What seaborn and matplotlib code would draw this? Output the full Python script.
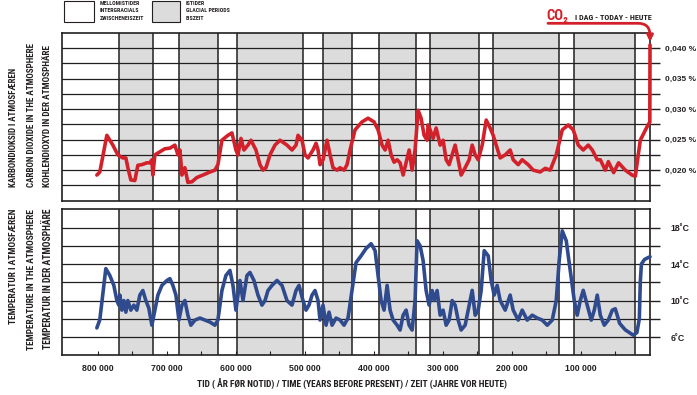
import matplotlib
matplotlib.use("Agg")
import matplotlib.pyplot as plt
import seaborn as sns
import pandas as pd
from matplotlib.patches import Rectangle
from matplotlib import font_manager

# CO2 (ppm) - years before present in thousands
co2_ka = [801, 796.7, 786.5, 777.8, 770.6, 763.4, 759, 756.1, 751.8, 746, 741.6, 735.8, 728.6, 724.2,
          721.3, 719.9, 717, 709.7, 702.5, 695.2, 688, 683.6, 680.7, 677.8, 673.5, 669.2, 663.3, 656.1,
          647.4, 637.2, 630, 625.7, 619.9, 611.2, 605.4, 599.6, 596.7, 592.3, 588, 582.2, 577.8, 570.6,
          564.8, 560.4, 556.1, 550.3, 543.1, 535.8, 525.7, 518.4, 512.6, 509.7, 503.9, 499.6, 495.2,
          488, 483.6, 480.7, 477.8, 473.5, 467.7, 463.3, 459, 453.2, 448.8, 443.1, 438.7, 434.4, 427.1,
          417, 408.3, 399.6, 393.8, 388, 383.6, 379.3, 374.9, 370.6, 366.2, 361.9, 357.5, 353.2, 348.8,
          344.5, 340.2, 335.8, 331.5, 327.1, 322.8, 321.3, 318.4, 314.1, 309.7, 303.9, 299.6, 295.2,
          290.9, 286.5, 282.2, 277.8, 273.5, 267.7, 261.9, 257.5, 253.2, 248.8, 243, 237.2, 231.5, 227.1,
          221.3, 217, 209.7, 202.5, 198.1, 190.9, 185.1, 176.4, 169.1, 159, 151.7, 144.5, 135.8, 127.1,
          118.4, 111.2, 103.9, 96.7, 89.4, 83.6, 76.4, 72, 64.8, 60.4, 52.7, 45.5, 35.8, 26, 21.3, 14.1,
          4.3, 0.3, 0]
co2_ppm = [192, 197, 257, 241, 225, 220, 220, 204, 184, 183, 208, 209, 212, 212,
           217, 192, 225, 230, 235, 236, 241, 225, 233, 192, 204, 180, 181, 188,
           192, 197, 200, 209, 249, 257, 261, 233, 225, 252, 233, 241, 249, 233,
           209, 200, 204, 225, 241, 249, 241, 233, 241, 257, 249, 225, 220,
           233, 244, 233, 209, 217, 249, 225, 204, 200, 204, 200, 209, 233, 266,
           279, 285, 279, 266, 241, 233, 249, 225, 213, 217, 212, 192, 212, 233,
           200, 233, 298, 285, 257, 249, 274, 266, 252, 269, 241, 249, 217,
           209, 225, 241, 217, 192, 204, 217, 241, 225, 217, 241, 282, 269, 257,
           236, 220, 225, 233, 217, 209, 217, 209, 200, 197, 203, 200, 225, 266,
           274, 266, 241, 233, 241, 233, 217, 217, 200, 214, 196, 212, 200, 192, 190, 249,
           271, 279, 405]

# Temperature (deg C)
temp_ka = [801, 796.7, 788, 782.2, 776.4, 772, 769.2, 767.7, 764.8, 761.9, 759, 756.1, 751.8, 747.4,
           743.1, 738.7, 734.4, 730, 725.7, 721.3, 717, 712.6, 706.8, 699.6, 695.2, 690.9, 686.5,
           682.2, 677.8, 673.5, 669.2, 664.8, 659, 651.7, 644.5, 637.2, 630, 625.7, 619.9, 614.1,
           608.3, 603.9, 599.6, 593.8, 589.4, 583.6, 579.3, 573.5, 567.7, 561.9, 557.5, 553.2, 547.4,
           540.1, 532.9, 525.7, 518.4, 512.6, 508.3, 502.5, 498.1, 493.8, 489.4, 485.1, 480.7, 477.8,
           473.5, 469.1, 464.8, 460.4, 454.6, 448.8, 443.1, 437.3, 431.5, 425.7, 418.4, 411.2, 403.9,
           398.1, 393.8, 389.4, 385.1, 380.7, 376.4, 372, 366.2, 361.9, 357.5, 353.2, 348.8, 344.5,
           340.2, 337.3, 332.9, 328.6, 324.2, 319.9, 315.5, 312.6, 308.3, 303.9, 299.6, 295.2, 290.9,
           286.5, 282.2, 277.8, 273.5, 267.7, 261.9, 257.5, 253.2, 248.8, 244.5, 240.1, 234.3, 230,
           225.7, 221.3, 217, 209.7, 202.5, 198.1, 190.9, 185.1, 177.8, 170.6, 163.3, 156.1, 148.8,
           141.6, 135.8, 131.5, 127.1, 121.3, 115.5, 109.7, 105.4, 101, 96.7, 90.9, 85.1, 80.7, 76.4,
           72, 66.2, 60.4, 54.6, 50.3, 44, 36, 30, 24.2, 19, 15.5, 14.1, 12.5, 8, 3, 0]
temp_c = [7.0, 7.9, 13.5, 12.75, 11.66, 10.0, 9.5, 10.6, 8.95, 10.0, 8.73, 10.0, 8.95, 9.5,
          8.95, 10.6, 11.1, 10.0, 9.16, 7.3, 8.95, 10.6, 11.66, 12.2, 12.4, 11.66, 10.6,
          7.86, 9.5, 10.0, 8.4, 7.3, 7.86, 8.08, 7.86, 7.64, 7.3, 7.86, 11.1, 12.75,
          13.3, 11.66, 8.95, 12.2, 10.0, 12.75, 13.08, 12.2, 10.6, 9.5, 10.0, 11.1, 11.66,
          12.2, 11.66, 10.0, 9.5, 11.1, 11.66, 10.0, 8.95, 9.5, 10.6, 11.1, 10.0, 7.86,
          9.5, 7.3, 8.73, 7.3, 8.08, 7.86, 7.3, 8.08, 11.1, 14.16, 14.9, 15.7, 16.23,
          15.47, 12.75, 10.0, 8.95, 11.66, 8.95, 7.86, 7.3, 6.77, 8.4, 8.95, 7.3, 6.77,
          10.0, 16.55, 16.0, 14.4, 11.1, 9.5, 11.1, 10.0, 11.1, 8.4, 8.95, 7.3, 7.86,
          10.0, 9.5, 7.86, 6.77, 7.3, 9.5, 11.12, 8.4, 8.95, 11.12, 15.47, 14.9, 12.2,
          10.6, 11.66, 10.0, 8.95, 10.6, 8.95, 7.86, 8.95, 7.86, 8.4, 8.08, 7.86, 7.3,
          7.86, 10.0, 14.4, 17.64, 16.55, 13.3, 10.0, 8.4, 10.0, 11.12, 9.49, 7.86, 8.95, 10.6,
          8.4, 7.3, 7.86, 8.95, 9.1, 7.5, 6.8, 6.5, 6.2, 6.5, 8.0, 12.0, 14.0, 14.5, 14.7, 14.8]

# Glacial periods (start, end) in thousands of years before present
glacial_start = [768.7, 681.7, 598, 474, 392, 319, 226.7, 110.7]
glacial_end = [720, 626, 502, 431, 339, 247, 132.5, 22.3]

co2_ticks = [175, 200, 225, 250, 275, 300, 325, 350, 375, 400]
co2_labels = {200: "0,020 %", 250: "0,025 %", 300: "0,030 %", 350: "0,035 %", 400: "0,040 %"}
temp_ticks = [6, 8, 10, 12, 14, 16, 18]
temp_labels = {6: "6˚C", 10: "10˚C", 14: "14˚C", 18: "18˚C"}
x_ticks = [800, 700, 600, 500, 400, 300, 200, 100]
x_labels = ["800 000", "700 000", "600 000", "500 000", "400 000", "300 000", "200 000", "100 000"]

sns.set_style("white")
installed = {f.name for f in font_manager.fontManager.ttflist}
narrow = [f for f in ["Roboto Condensed", "Liberation Sans Narrow", "Liberation Sans"] if f in installed]
narrow = narrow[:1] + ["DejaVu Sans"]
plt.rcParams["font.family"] = ["Liberation Sans", "DejaVu Sans"]

RED = "#d3212b"
BLUE = "#2f4b8e"
DARK = "#231f20"
GRAY = "#dcdcdc"

fig = plt.figure(figsize=(6.97, 3.95), dpi=100)
ax1 = fig.add_axes([0.0894, 0.4919, 0.8432, 0.4253])
ax2 = fig.add_axes([0.0894, 0.1005, 0.8432, 0.3696])
renderer = fig.canvas.get_renderer()


def fit(t, target, vertical=False):
    # scale a text so that its length matches the reference
    bb = t.get_window_extent(renderer)
    size = bb.height if vertical else bb.width
    t.set_fontsize(t.get_fontsize() * target / size)


co2_df = pd.DataFrame({"ka": co2_ka, "ppm": co2_ppm})
temp_df = pd.DataFrame({"ka": temp_ka, "temp": temp_c})

for ax in (ax1, ax2):
    for s, e in zip(glacial_start, glacial_end):
        ax.axvspan(e, s, color=GRAY, lw=0, zorder=0.5)
        ax.axvline(s, color=DARK, lw=1.1, zorder=1.5)
        ax.axvline(e, color=DARK, lw=1.1, zorder=1.5)
    for sp in ax.spines.values():
        sp.set_color(DARK)
        sp.set_linewidth(1.2)
        sp.set_visible(True)
    ax.yaxis.tick_right()

# top: CO2
for t in co2_ticks:
    ax1.axhline(t, color=DARK, lw=0.9, zorder=1.5)
sns.lineplot(data=co2_df, x="ka", y="ppm", ax=ax1, color=RED, lw=2.6, sort=False,
             estimator=None, zorder=3, clip_on=False, solid_capstyle="round", solid_joinstyle="round")
ax1.set_ylim(150, 425)
ax1.set_xlim(851, 0)
ax1.set_yticks(co2_ticks)
ax1.set_yticklabels([co2_labels.get(t, "") for t in co2_ticks])
ax1.set_xticks([])
ax1.tick_params(axis="y", direction="out", length=7, width=1, color=DARK, pad=3.5,
                labelsize=6, labelcolor=DARK)
for lbl in ax1.get_yticklabels():
    lbl.set_fontweight("bold")

# bottom: temperature
for t in temp_ticks:
    ax2.axhline(t, color=DARK, lw=0.9, zorder=1.5)
sns.lineplot(data=temp_df, x="ka", y="temp", ax=ax2, color=BLUE, lw=2.6, sort=False,
             estimator=None, zorder=3, clip_on=False, solid_capstyle="round", solid_joinstyle="round")
ax2.set_ylim(4, 20)
ax2.set_xlim(851, 0)
ax2.set_yticks(temp_ticks)
ax2.set_yticklabels([temp_labels.get(t, "") for t in temp_ticks])
ax2.set_xticks(x_ticks)
ax2.set_xticklabels(x_labels)
ax2.set_xticks([750, 650, 550, 450, 350, 250, 150, 50], minor=True)
ax2.tick_params(axis="y", direction="out", length=7, width=1, color=DARK, pad=8,
                labelsize=6.3, labelcolor=DARK)
ax2.tick_params(axis="x", which="both", direction="in", length=3, width=0.8, color=DARK,
                pad=6, labelsize=6.3, labelcolor=DARK, bottom=True)
for lbl in ax2.get_yticklabels() + ax2.get_xticklabels():
    lbl.set_fontweight("bold")
for ax in (ax1, ax2):
    ax.set_xlabel("")
    ax.set_ylabel("")

# axis titles
for x, s, L in zip([0.0191, 0.0455, 0.0684], ["KARBONDIOKSID I ATMOSFÆREN",
                                              "CARBON DIOXIDE IN THE ATMOSPHERE",
                                              "KOHLENDIOXYD IN DER ATMOSPHÄRE"], [120, 144, 142]):
    t = fig.text(x, 0.5266, s, rotation=90, ha="center", va="bottom", fontsize=6.5,
                 family=narrow, color=DARK, fontweight="bold")
    fit(t, L, vertical=True)
for x, s, L in zip([0.0191, 0.0455, 0.0684], ["TEMPERATUR I ATMOSFÆREN",
                                              "TEMPERATURE IN THE ATMOSPHERE",
                                              "TEMPERATUR IN DER ATMOSPHÄRE"], [116, 142, 142]):
    t = fig.text(x, 0.4709, s, rotation=90, ha="center", va="top", fontsize=6.5,
                 family=narrow, color=DARK, fontweight="bold")
    fit(t, L, vertical=True)
t = fig.text(0.505, 0.0278, "TID ( ÅR FØR NOTID) / TIME (YEARS BEFORE PRESENT) / ZEIT (JAHRE VOR HEUTE)",
             ha="center", va="center", fontsize=6.5, family=narrow, color=DARK, fontweight="bold")
fit(t, 312)

# legend boxes
fig.patches.append(Rectangle((0.0918, 0.945), 0.043, 0.0532, transform=fig.transFigure,
                             facecolor="white", edgecolor=DARK, lw=0.8))
fig.patches.append(Rectangle((0.2176, 0.945), 0.0406, 0.0532, transform=fig.transFigure,
                             facecolor=GRAY, edgecolor=DARK, lw=0.8))
for y, s in zip([0.9916, 0.9722, 0.9519], ["MELLOMISTIDER", "INTERGRACIALS", "ZWISCHENEISZEIT"]):
    t = fig.text(0.1435, y, s, ha="left", va="center", fontsize=4, family=narrow,
                 color=DARK, fontweight="bold")
    if s == "ZWISCHENEISZEIT":
        leg_size = t.get_fontsize()
        fit(t, 44)
        leg_size = t.get_fontsize()
for t in fig.texts[-3:]:
    t.set_fontsize(leg_size)
for y, s in zip([0.9916, 0.9722, 0.9519], ["ISTIDER", "GLACIAL PERIODS", "EISZEIT"]):
    fig.text(0.2669, y, s, ha="left", va="center", fontsize=leg_size, family=narrow,
             color=DARK, fontweight="bold")

# today annotation
fig.text(0.7844, 0.9595, "CO₂", ha="left", va="center", fontsize=10.5, color=RED,
         fontweight="bold", family=narrow)
t = fig.text(0.825, 0.955, "I DAG - TODAY - HEUTE", ha="left", va="center", fontsize=5,
             color=DARK, fontweight="bold", family=narrow)
fit(t, 77)
ax1.annotate("", xy=(0, 410), xycoords="data", xytext=(0.7862, 0.941),
             textcoords="figure fraction",
             arrowprops=dict(arrowstyle="-|>", color=RED, lw=2, mutation_scale=9,
                             shrinkA=0, shrinkB=0,
                             connectionstyle="angle,angleA=0,angleB=90,rad=12"),
             annotation_clip=False)

fig.savefig("out.png", dpi=100)
